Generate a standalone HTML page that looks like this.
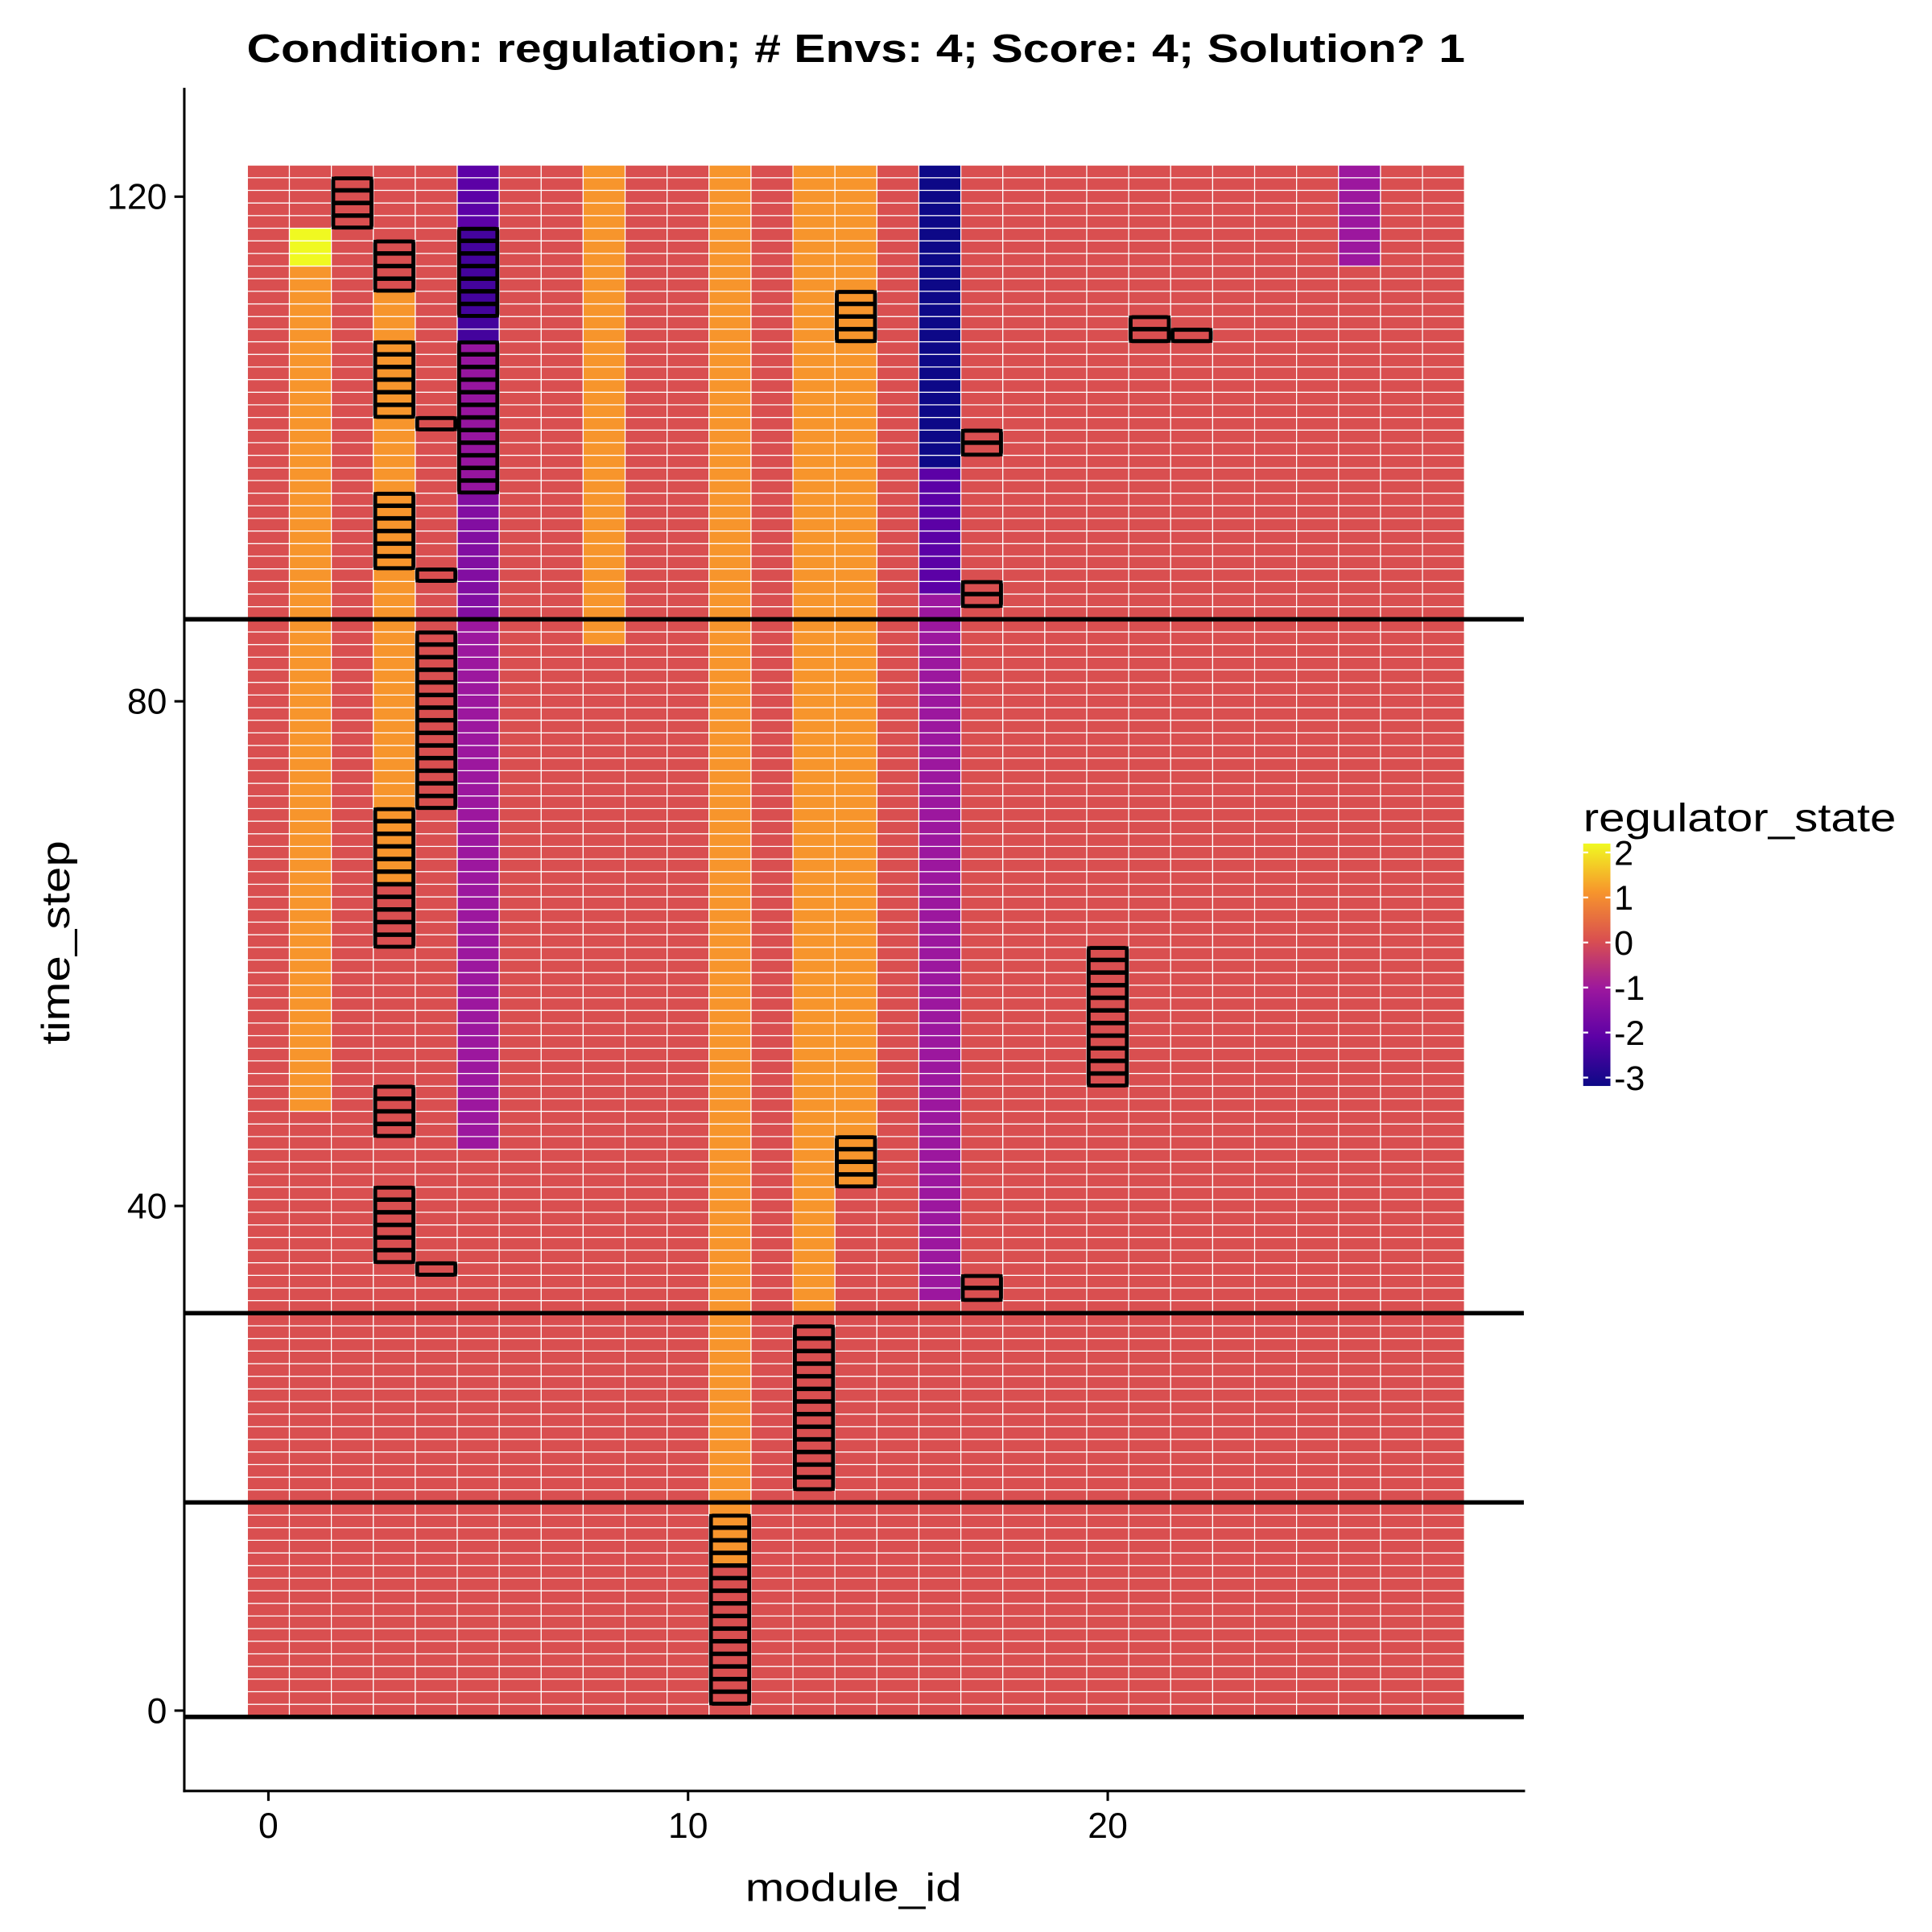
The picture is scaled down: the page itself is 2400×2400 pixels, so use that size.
<!DOCTYPE html>
<html><head><meta charset="utf-8"><style>
html,body{margin:0;padding:0;background:#fff;}
svg{display:block;}
text{font-family:"Liberation Sans",Arial,sans-serif;fill:#000;}
</style></head><body>
<svg id="chart" width="2400" height="2400" viewBox="0 0 1562 1562" xmlns="http://www.w3.org/2000/svg">
<defs>
<linearGradient id="grad" x1="0" y1="1" x2="0" y2="0">
<stop offset="0" stop-color="#0d0887"/><stop offset="0.2" stop-color="#5c01a6"/><stop offset="0.4" stop-color="#9c179e"/><stop offset="0.6" stop-color="#d94f50"/><stop offset="0.8" stop-color="#f7952c"/><stop offset="1" stop-color="#f0f921"/>
</linearGradient>
</defs>
<text x="692" y="50" text-anchor="middle" font-size="32" font-weight="bold" textLength="985" lengthAdjust="spacingAndGlyphs">Condition: regulation; # Envs: 4; Score: 4; Solution? 1</text>
<g id="tiles"></g>
<g id="boxes"></g>
<g id="hlines"></g>
<line x1="149" y1="71" x2="149" y2="1449" stroke="#000" stroke-width="2"/>
<line x1="148" y1="1448" x2="1233" y2="1448" stroke="#000" stroke-width="2"/>
<g id="axes"></g>
<text x="690" y="1537" text-anchor="middle" font-size="32" textLength="175" lengthAdjust="spacingAndGlyphs">module_id</text>
<text transform="translate(56,762) rotate(-90)" text-anchor="middle" font-size="32" textLength="165" lengthAdjust="spacingAndGlyphs">time_step</text>
<g>
<text x="1280" y="672" font-size="32" textLength="253" lengthAdjust="spacingAndGlyphs">regulator_state</text>
<rect x="1280" y="682" width="22" height="196" fill="url(#grad)"/>
<g id="legend-ticks"></g>
</g>
</svg>
<script>
const NS="http://www.w3.org/2000/svg";
// data
const modules=[0,1,2,3,4,5,6,7,8,9,10,11,12,13,14,15,16,17,18,19,20,21,22,23,24,25,26,27,28];
const timeMin=0, timeMax=122;
const baseValue=0;
// segments: [module, fromStep, toStep, value]
const segModule=[1,1,3,5,5,5,5,5,8,11,13,14,16,16,16,26];
const segFrom  =[48,115,66,45,87,97,109,118,85,12,32,42,33,89,99,115];
const segTo    =[114,117,112,86,96,108,117,122,122,122,122,122,88,98,122,122];
const segValue =[1,2,1,-1.0,-1.4,-1.1,-2.3,-2.0,1,1,1,1,-1.0,-2.0,-3,-1.0];
// highlight boxes: [module, fromStep, toStep]
const boxModule=[2,3,5,14,21,22,3,4,5,17,3,4,17,4,3,20,3,14,3,4,17,13,11];
const boxFrom  =[118,113,111,109,109,109,103,102,97,100,91,90,88,72,61,50,46,42,36,35,33,18,1];
const boxTo    =[121,116,117,112,110,109,108,102,108,101,96,90,89,85,71,60,49,45,41,35,34,30,15];
const envLines=[-0.5,16.5,31.5,86.5];
const xTicks=[0,10,20];
const yTicks=[0,40,80,120];
const legendVals=[2,1,0,-1,-2,-3];

const X=v=>217+v*33.93;
const Y=v=>1383-v*10.2;
const LY=v=>762-v*36.4;
const stops=[[-3,[13,8,135]],[-2,[92,1,166]],[-1,[156,23,158]],[0,[217,79,80]],[1,[247,149,44]],[2,[240,249,33]]];
function col(v){
  if(v<=stops[0][0])return 'rgb('+stops[0][1]+')';
  for(let i=0;i<stops.length-1;i++){const a=stops[i],b=stops[i+1];
    if(v<=b[0]){const t=(v-a[0])/(b[0]-a[0]);return 'rgb('+a[1].map((c,k)=>Math.round(c+(b[1][k]-c)*t)).join(',')+')';}}
  return 'rgb('+stops[stops.length-1][1]+')';
}
function val(m,t){let v=baseValue;for(let i=0;i<segModule.length;i++){if(segModule[i]===m&&t>=segFrom[i]&&t<=segTo[i])v=segValue[i];}return v;}
function mk(tag,attrs,parent){const e=document.createElementNS(NS,tag);for(const k in attrs)e.setAttribute(k,attrs[k]);parent.appendChild(e);return e;}
const tiles=document.getElementById('tiles');
const w=X(1)-X(0), h=Y(0)-Y(1);
for(const m of modules){for(let t=timeMin;t<=timeMax;t++){
  const r=mk('rect',{x:X(m-0.5),y:Y(t+0.5),width:w,height:h,fill:col(val(m,t)),stroke:'#fff','stroke-width':0.8},tiles);
  
  
}}
const boxes=document.getElementById('boxes');
for(let i=0;i<boxModule.length;i++){
  const m=boxModule[i];
  for(let t=boxFrom[i];t<=boxTo[i];t++){
    const r=mk('rect',{x:X(m-0.5)+1.5,y:Y(t+0.5)+0.5,width:w-3,height:h-1,fill:col(val(m,t)),stroke:'#000','stroke-width':2.6},boxes);
    
    
  }
  const b=mk('rect',{x:X(m-0.5)+1.5,y:Y(boxTo[i]+0.5)+0.5,width:w-3,height:(boxTo[i]-boxFrom[i]+1)*h-1,fill:'none',stroke:'#000','stroke-width':3.2,rx:1.5},boxes);
  
  
}
const hl=document.getElementById('hlines');
for(const v of envLines){
  const l=mk('line',{x1:149,x2:1232,y1:Y(v),y2:Y(v),stroke:'#000','stroke-width':3.6},hl);
  
  
}
const ax=document.getElementById('axes');
for(const v of xTicks){
  mk('line',{x1:X(v),x2:X(v),y1:1448,y2:1456,stroke:'#000','stroke-width':2},ax);
  const t=mk('text',{x:X(v),y:1486,'text-anchor':'middle','font-size':29,fill:'#000'},ax);t.textContent=v;
  
  
}
for(const v of yTicks){
  mk('line',{x1:141,x2:149,y1:Y(v),y2:Y(v),stroke:'#000','stroke-width':2},ax);
  const t=mk('text',{x:135,y:Y(v)+10,'text-anchor':'end','font-size':29,fill:'#000'},ax);t.textContent=v;
  
  
}
const lt=document.getElementById('legend-ticks');
for(const v of legendVals){
  mk('line',{x1:1280,x2:1284,y1:LY(v),y2:LY(v),stroke:'#fff','stroke-width':1.5},lt);
  mk('line',{x1:1298,x2:1302,y1:LY(v),y2:LY(v),stroke:'#fff','stroke-width':1.5},lt);
  const t=mk('text',{x:1305,y:LY(v)+10,'font-size':28,fill:'#000'},lt);t.textContent=v;
  
  
}
</script>
</body></html>
